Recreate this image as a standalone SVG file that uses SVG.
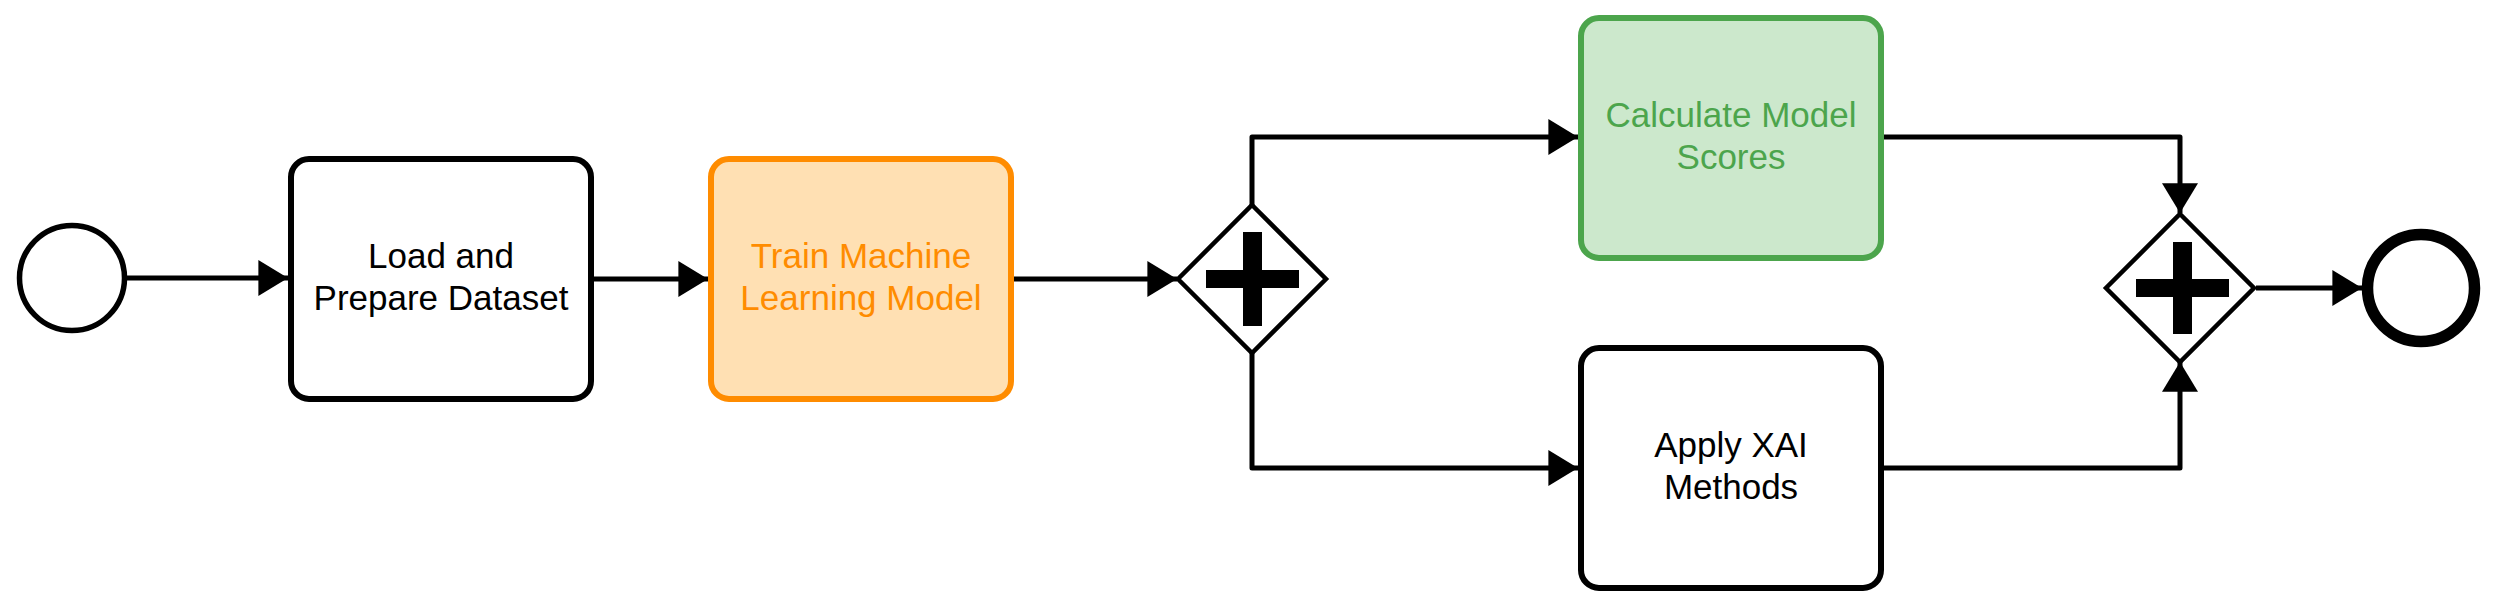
<svg xmlns="http://www.w3.org/2000/svg" width="2493" height="606" viewBox="0 0 2493 606">
  <defs>
    <marker id="arrow" markerUnits="userSpaceOnUse" markerWidth="30" markerHeight="36" viewBox="0 0 28 34" refX="28" refY="17" orient="auto">
      <path d="M0,0 L28,17 L0,34 Z" fill="#000"/>
    </marker>
    <style>
      .task { stroke-width: 6; }
      .plain { fill: #ffffff; stroke: #000000; }
      .orange { fill: #FFE0B3; stroke: #FF8C00; }
      .green { fill: #CCE8CC; stroke: #4CA54C; }
      .label { font-family: "Liberation Sans", Arial, sans-serif; font-size: 35px; text-anchor: middle; }
      .conn { fill: none; stroke: #000; stroke-width: 5; stroke-linejoin: round; }
      .gw { fill: #fff; stroke: #000; stroke-width: 4.5; stroke-linejoin: miter; }
    </style>
  </defs>
  <rect width="2493" height="606" fill="#ffffff"/>

  <g id="connectors">
    <path class="conn" d="M127,278 L288,278" marker-end="url(#arrow)"/>
    <path class="conn" d="M594,279 L708,279" marker-end="url(#arrow)"/>
    <path class="conn" d="M1014,279 L1177,279" marker-end="url(#arrow)"/>
    <path class="conn" d="M1252,205 L1252,137 L1578,137" marker-end="url(#arrow)"/>
    <path class="conn" d="M1252,353 L1252,468 L1578,468" marker-end="url(#arrow)"/>
    <path class="conn" d="M1884,137 L2180,137 L2180,213" marker-end="url(#arrow)"/>
    <path class="conn" d="M1884,468 L2180,468 L2180,362" marker-end="url(#arrow)"/>
    <path class="conn" d="M2256,288 L2362,288" marker-end="url(#arrow)"/>
  </g>

  <g id="start">
    <circle cx="72" cy="278" r="52.5" fill="#fff" stroke="#000" stroke-width="5.5"/>
  </g>

  <g id="load">
    <rect class="task plain" x="291" y="159" width="300" height="240" rx="18"/>
    <text class="label" fill="#000"><tspan x="441" y="267.5">Load and</tspan><tspan x="441" y="310">Prepare Dataset</tspan></text>
  </g>

  <g id="train">
    <rect class="task orange" x="711" y="159" width="300" height="240" rx="18"/>
    <text class="label" fill="#FF8C00"><tspan x="861" y="267.5">Train Machine</tspan><tspan x="861" y="310">Learning Model</tspan></text>
  </g>

  <g id="split">
    <path class="gw" d="M1252,205 L1326,279 L1252,353 L1178,279 Z"/>
    <path d="M1243,232 H1262 V270 H1299 V288 H1262 V326 H1243 V288 H1206 V270 H1243 Z" fill="#000"/>
  </g>

  <g id="calculate">
    <rect class="task green" x="1581" y="18" width="300" height="240" rx="18"/>
    <text class="label" fill="#4CA54C"><tspan x="1731" y="126.5">Calculate Model</tspan><tspan x="1731" y="169">Scores</tspan></text>
  </g>

  <g id="apply">
    <rect class="task plain" x="1581" y="348" width="300" height="240" rx="18"/>
    <text class="label" fill="#000"><tspan x="1731" y="456.5">Apply XAI</tspan><tspan x="1731" y="499">Methods</tspan></text>
  </g>

  <g id="join">
    <path class="gw" d="M2180,214 L2254,288 L2180,362 L2106,288 Z"/>
    <path d="M2173,242 H2192 V279 H2229 V297 H2192 V334 H2173 V297 H2136 V279 H2173 Z" fill="#000"/>
  </g>

  <g id="end">
    <circle cx="2421" cy="288" r="53.5" fill="#fff" stroke="#000" stroke-width="11.5"/>
  </g>
</svg>
